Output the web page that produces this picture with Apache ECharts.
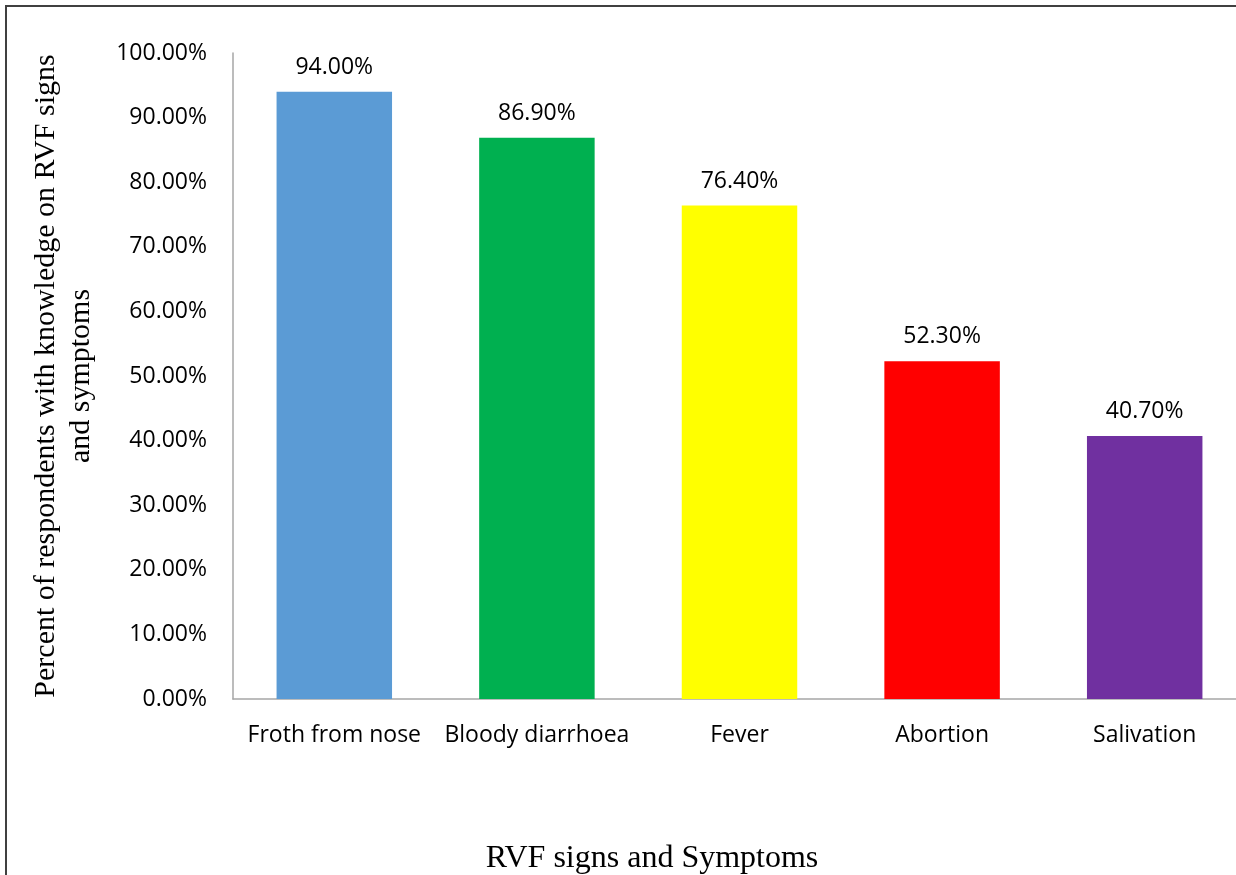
<!DOCTYPE html>
<html>
<head>
<meta charset="utf-8">
<script src="https://cdn.jsdelivr.net/npm/echarts@6/dist/echarts.min.js"></script>
<style>
  html, body { margin: 0; padding: 0; background: #fff; }
  #chart { width: 1236px; height: 875px; }
</style>
</head>
<body>
<div id="chart"></div>
<script>
// Categories and percentages
const categories = ['Froth from nose', 'Bloody diarrhoea', 'Fever', 'Abortion', 'Salivation'];
const values = [94.0, 86.9, 76.4, 52.3, 40.7];
const barColors = ['#5B9BD5', '#00B050', '#FFFF00', '#FF0000', '#7030A0'];
const yTitle = 'Percent of respondents with knowledge on RVF signs\nand symptoms';
const xTitle = 'RVF signs and Symptoms';

const chart = echarts.init(document.getElementById('chart'));
const sansFont = '"Open Sans", Lato, sans-serif';
const serifFont = '"Liberation Serif", "DejaVu Serif", serif';

chart.setOption({
  animation: false,
  graphic: [
    // frame: left and top edges of the chart area
    {
      type: 'polyline',
      shape: { points: [[6, 900], [6, 6], [1300, 6]] },
      style: { fill: 'none', stroke: '#404040', lineWidth: 2 },
      silent: true
    },
    {
      type: 'text',
      x: 652,
      y: 859,
      style: {
        text: xTitle,
        fill: '#000',
        font: '32px ' + serifFont,
        textAlign: 'center',
        textVerticalAlign: 'middle'
      },
      silent: true
    }
  ],
  grid: { left: 233, top: 53, bottom: 176, right: -10, containLabel: false, outerBoundsMode: 'none' },
  xAxis: {
    type: 'category',
    data: categories,
    axisLine: { lineStyle: { color: '#a6a6a6', width: 1.5 } },
    axisTick: { show: false },
    axisLabel: { color: '#000', fontFamily: sansFont, fontSize: 23, margin: 25, interval: 0 }
  },
  yAxis: {
    type: 'value',
    min: 0,
    max: 100,
    interval: 10,
    splitLine: { show: false },
    axisLine: { show: true, lineStyle: { color: '#a6a6a6', width: 1.5 } },
    axisTick: { show: false },
    axisLabel: {
      color: '#000', fontFamily: sansFont, fontSize: 23, margin: 26,
      formatter: v => v.toFixed(2) + '%'
    },
    name: yTitle,
    nameLocation: 'middle',
    nameGap: 134,
    nameTextStyle: { color: '#000', fontFamily: serifFont, fontSize: 30, lineHeight: 35 }
  },
  series: [{
    type: 'bar',
    data: values.map((v, i) => ({ value: v, itemStyle: { color: barColors[i] } })),
    barWidth: '57%',
    label: {
      show: true,
      position: 'top',
      distance: 13,
      color: '#000',
      fontFamily: sansFont,
      fontSize: 23,
      formatter: p => p.value.toFixed(2) + '%'
    }
  }]
});
</script>
</body>
</html>
